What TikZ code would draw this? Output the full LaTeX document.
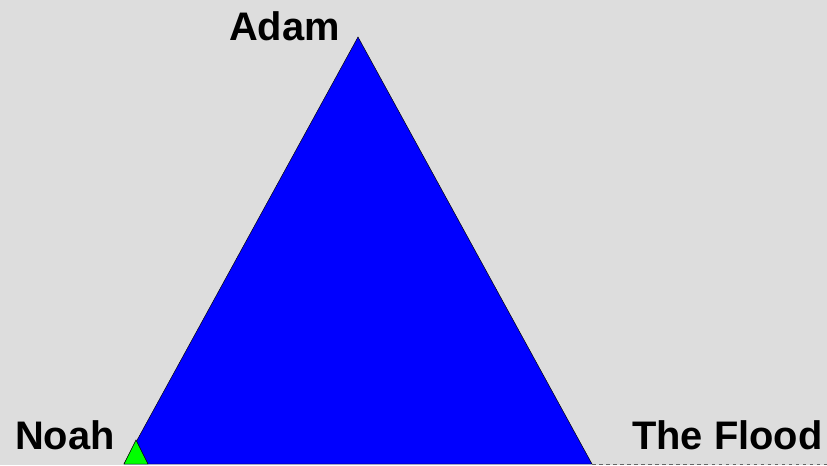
\documentclass[tikz,border=0pt]{standalone}
\usepackage{fontspec}
\setmainfont{Liberation Sans}
\usetikzlibrary{positioning}
\definecolor{bggray}{HTML}{DDDDDD}

\begin{document}
\begin{tikzpicture}[x=0.03cm, y=-0.03cm,
    label/.style={font=\fontsize{34}{34}\selectfont\bfseries, inner sep=0pt, anchor=base west}]
    % Background
    \fill[bggray] (0,0) rectangle (827,465);
    \useasboundingbox (0,0) rectangle (827,465);

    % Corners
    \coordinate (top) at (358,37);
    \coordinate (left) at (124,464);
    \coordinate (right) at (592,464);

    % Big triangle
    \draw[fill=blue] (top) -- (left) -- (right) -- cycle;

    % Small triangle at Noah
    \draw[fill=green] (left) -- (136,440) -- (148,464) -- cycle;

    % Base line beyond the triangle
    \draw[dashed, black!60, thin] (right) -- (827,464);

    % Labels
    \node[label] (adam) at (229,40) {Adam};
    \node[label] (noah) at (15,449) {Noah};
    \node[label] (flood) at (632,449) {The Flood};
\end{tikzpicture}
\end{document}
